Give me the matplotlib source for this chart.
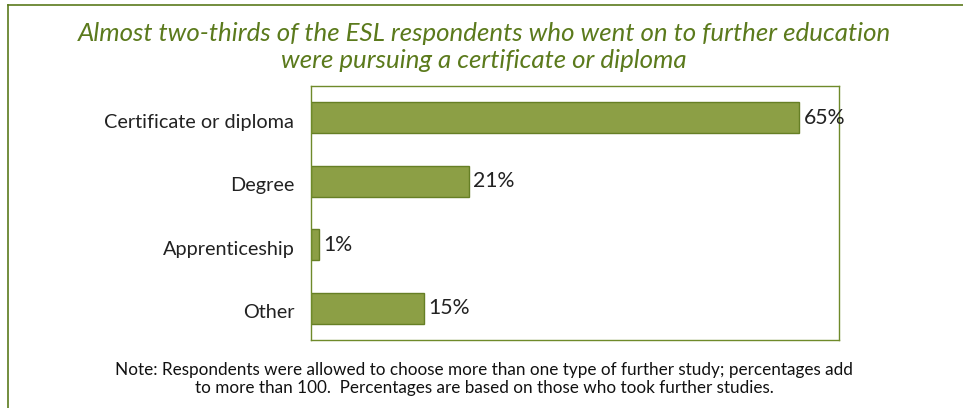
import matplotlib.pyplot as plt
from matplotlib.lines import Line2D
from matplotlib.transforms import ScaledTranslation

plt.rcParams['font.family'] = ['Lato', 'DejaVu Sans']

# 数据
categories = ['Certificate or diploma', 'Degree', 'Apprenticeship', 'Other']
values = [65, 21, 1, 15]
value_labels = ['65%', '21%', '1%', '15%']

title = ('Almost two-thirds of the ESL respondents who went on to further education\n'
         'were pursuing a certificate or diploma')
note = ('Note: Respondents were allowed to choose more than one type of further study; percentages add\n'
        'to more than 100.  Percentages are based on those who took further studies.')

green_dark = '#5b7a1c'
bar_fill = '#8c9f45'
bar_edge = '#667f25'

fig = plt.figure(figsize=(9.63, 4.08), dpi=100)
ax = fig.add_axes([311 / 963, 1 - 340 / 408, (839 - 311) / 963, (340 - 86) / 408])

y = list(range(len(categories)))
ax.barh(y, values, height=0.49, color=bar_fill, edgecolor=bar_edge, linewidth=1.0)
for yi, v, lab in zip(y, values, value_labels):
    ax.text(v + 0.65, yi, lab, va='center', ha='left', fontsize=15.3, color='#222222')

ax.set_xlim(0, 70.4)
ax.set_ylim(3.5, -0.5)
ax.set_yticks(y)
ax.set_yticklabels(categories, fontsize=14.3, color='#222222')
ax.tick_params(axis='y', length=0, pad=12)
ax.set_xticks([])
# 类别标签略微下移
shift = ScaledTranslation(0, -3 / 100, fig.dpi_scale_trans)
for lbl in ax.get_yticklabels():
    lbl.set_transform(lbl.get_transform() + shift)
for s in ax.spines.values():
    s.set_color('#6f8a2a')
    s.set_linewidth(1.0)

# 标题和注释
fig.text(484 / 963, 1 - 47 / 408, title, ha='center', va='center', fontsize=18.6,
         style='italic', color=green_dark, linespacing=1.25)
fig.text(484 / 963, 1 - 379 / 408, note, ha='center', va='center', fontsize=12.3,
         color='#111111', linespacing=1.1)

# 外框（左、上）
fig.add_artist(Line2D([8 / 963, 8 / 963], [0, 1 - 5 / 408], transform=fig.transFigure,
                      color=green_dark, linewidth=1.2))
fig.add_artist(Line2D([8 / 963, 1], [1 - 5 / 408, 1 - 5 / 408], transform=fig.transFigure,
                      color=green_dark, linewidth=1.2))

fig.savefig('out.png', dpi=100, facecolor='white')
